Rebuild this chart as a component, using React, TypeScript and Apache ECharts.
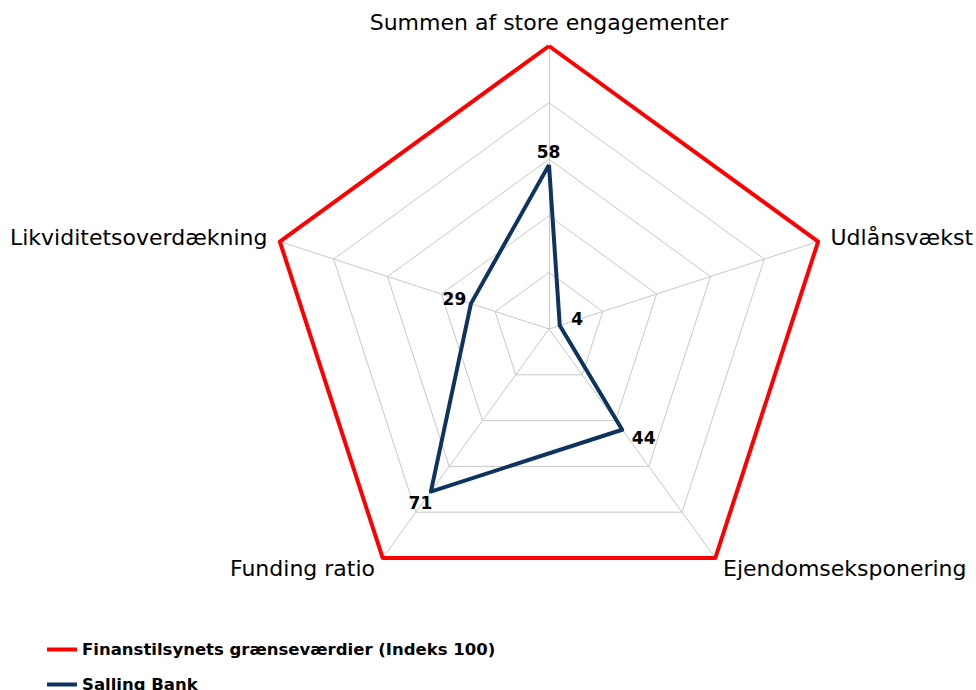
import React, { useEffect, useRef } from "react";
import * as echarts from "echarts";

// indicators in clockwise order starting at the top
const indicatorNames = [
  "Summen af store engagementer",
  "Likviditetsoverdækning",
  "Funding ratio",
  "Ejendomseksponering",
  "Udlånsvækst",
];
const indicatorMax = 100;
const limitName = "Finanstilsynets grænseværdier (Indeks 100)";
const limitValues = [100, 100, 100, 100, 100];
const bankName = "Salling Bank";
const bankValues = [58, 29, 71, 44, 4];

// label offsets (px) from each vertex of the bank polygon
const labelOffsets: [number, number][] = [
  [0, -12],
  [-16, -4],
  [-10, 12],
  [22, 9],
  [18, -6],
];

export default function App() {
  const ref = useRef<HTMLDivElement>(null);
  useEffect(() => {
    document.body.style.margin = "0";
    const chart = echarts.init(ref.current!, null, { renderer: "svg" });
    const labelItems = bankValues.map((_, i) => ({
      name: "lbl" + i,
      value: bankValues,
      symbol: "circle",
      symbolSize: 1,
      itemStyle: { color: "rgba(0,0,0,0)" },
      lineStyle: { opacity: 0, width: 0 },
      label: {
        show: true,
        position: labelOffsets[i],
        align: "center",
        verticalAlign: "middle",
        color: "#000",
        fontFamily: "DejaVu Sans",
        fontWeight: "bold",
        fontSize: 17,
        formatter: (p: any) => {
          const idx = p.dimensionIndex;
          if (idx !== undefined && idx !== null) return idx === i ? String(p.value) : "";
          return p.value === bankValues[i] ? String(p.value) : "";
        },
      },
    }));
    chart.setOption({
      animation: false,
      backgroundColor: "#fff",
      legend: {
        orient: "vertical",
        left: 47,
        top: 641,
        height: 60,
        padding: 0,
        itemWidth: 30,
        itemHeight: 4,
        itemGap: 18,
        icon: "rect",
        data: [limitName, bankName],
        textStyle: {
          fontFamily: "DejaVu Sans",
          fontWeight: "bold",
          fontSize: 16.5,
          color: "#000",
          lineHeight: 16,
        },
      },
      radar: {
        center: [549, 329],
        radius: 283,
        startAngle: 90,
        splitNumber: 5,
        shape: "polygon",
        indicator: indicatorNames.map((n) => ({ name: n, max: indicatorMax, min: 0 })),
        nameGap: 13,
        axisName: {
          color: "#000",
          fontFamily: "DejaVu Sans",
          fontSize: 22,
        },
        axisLine: { lineStyle: { color: "#c8c8c8", width: 1 } },
        splitLine: { lineStyle: { color: "#c8c8c8", width: 1 } },
        splitArea: { show: false },
        axisTick: { show: false },
        axisLabel: { show: false },
      },
      series: [
        {
          type: "radar",
          symbol: "none",
          data: [
            {
              name: limitName,
              value: limitValues,
              lineStyle: { color: "#ff0000", width: 4 },
              itemStyle: { color: "#ff0000" },
            },
            {
              name: bankName,
              value: bankValues,
              lineStyle: { color: "#0d335e", width: 4 },
              itemStyle: { color: "#0d335e" },
            },
          ],
        },
        {
          type: "radar",
          silent: true,
          data: labelItems,
        },
      ],
    });
    return () => chart.dispose();
  }, []);
  return <div ref={ref} style={{ width: 976, height: 690 }} />;
}
